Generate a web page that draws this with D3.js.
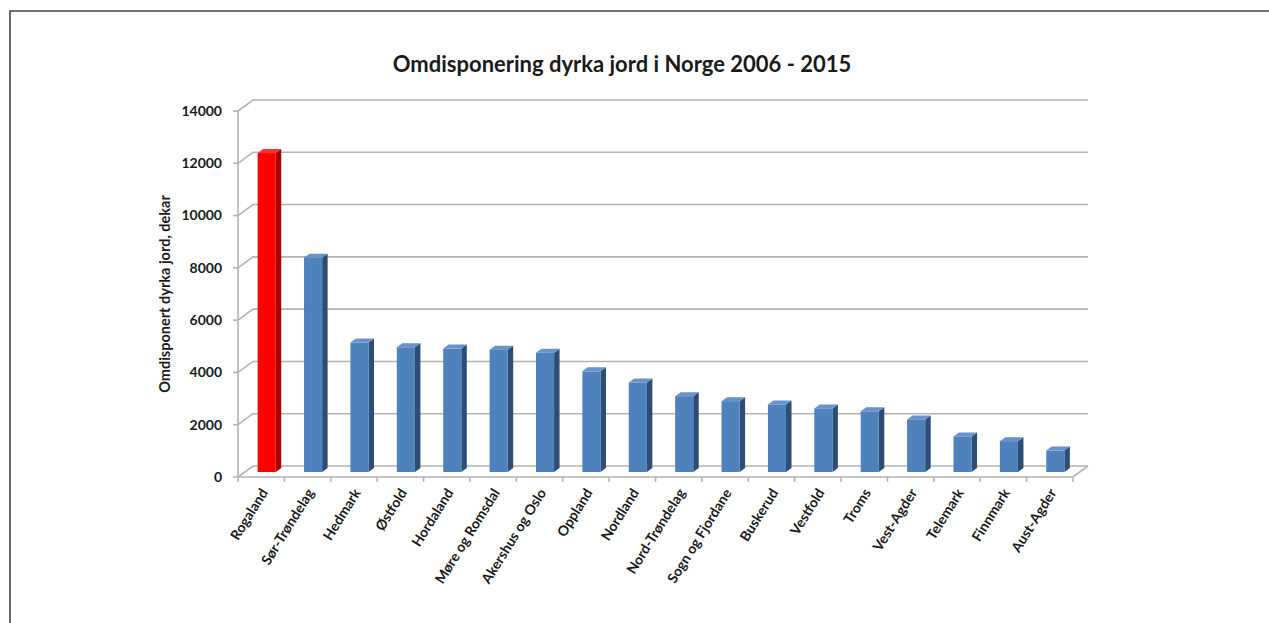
<!DOCTYPE html>
<meta charset="utf-8">
<script src="https://cdn.jsdelivr.net/npm/d3@7"></script>
<style>
  body { margin: 0; background: #fff; }
  text { font-family: Lato, "Open Sans", sans-serif; fill: #1a1a1a; }
</style>
<body>
<script>
// fylker, sortert etter omdisponert areal
var fylker = ["Rogaland", "Sør-Trøndelag", "Hedmark", "Østfold", "Hordaland", "Møre og Romsdal",
  "Akershus og Oslo", "Oppland", "Nordland", "Nord-Trøndelag", "Sogn og Fjordane", "Buskerud",
  "Vestfold", "Troms", "Vest-Agder", "Telemark", "Finnmark", "Aust-Agder"];
var dekar = [12200, 8200, 4950, 4770, 4720, 4680, 4560, 3850, 3420, 2900, 2710, 2580, 2430, 2320, 2010, 1360, 1180, 820];
var yTicks = [0, 2000, 4000, 6000, 8000, 10000, 12000, 14000];
var highlight = "Rogaland";

var width = 1269, height = 623;
var depth = {x: 15, y: -11};      // back wall offset
var barDepth = {x: 5.5, y: -4};   // bar side/top
var barShift = {x: 5.5, y: -5};   // bar plane behind the front edge

var svg = d3.select("body").append("svg")
    .attr("width", width)
    .attr("height", height);

// frame
svg.append("path")
    .attr("d", "M10," + height + "V11H" + width)
    .attr("fill", "none")
    .attr("stroke", "#444")
    .attr("stroke-width", 1.6);

var x = d3.scaleBand(fylker, [238, 1073]).paddingInner(0.61).paddingOuter(0.305);
var y = d3.scaleLinear([0, 14000], [477, 111]);
var step = x.step();

var grid = svg.append("g")
    .attr("fill", "none")
    .attr("stroke", "#b3b3b3")
    .attr("stroke-width", 1.6);

// back wall gridlines + side wall diagonals
grid.selectAll("path.grid")
  .data(yTicks)
  .join("path")
    .attr("class", "grid")
    .attr("d", d => `M${238},${y(d)}L${238 + depth.x},${y(d) + depth.y}H${1073 + depth.x}`);

// floor
grid.append("path")
    .attr("d", `M238,${y(0)}H1073L${1073 + depth.x},${y(0) + depth.y}`);

// front y axis line and ticks
grid.append("path")
    .attr("d", `M238,${y(14000)}V${y(0)}`);
grid.selectAll("path.ytick")
  .data(yTicks)
  .join("path")
    .attr("class", "ytick")
    .attr("d", d => `M233,${y(d)}H238`);

// x ticks at category boundaries
grid.selectAll("path.xtick")
  .data(d3.range(fylker.length + 1))
  .join("path")
    .attr("class", "xtick")
    .attr("d", i => `M${238 + i * step},${y(0)}v5`);

// bars
var colors = {
  normal: {front: "#4f81bd", side: "#2c4d75", top: "#6892c8"},
  hi: {front: "#ff0000", side: "#a80000", top: "#ff3030"}
};

var bars = svg.append("g")
  .selectAll("g")
  .data(fylker.map((f, i) => ({navn: f, verdi: dekar[i]})))
  .join("g");

bars.each(function(d) {
  var g = d3.select(this);
  var c = d.navn === highlight ? colors.hi : colors.normal;
  var x0 = x(d.navn) + barShift.x, x1 = x0 + x.bandwidth();
  var y0 = y(0) + barShift.y, y1 = y(d.verdi) + barShift.y;
  var dx = barDepth.x, dy = barDepth.y;
  g.append("path")
      .attr("fill", c.side)
      .attr("d", `M${x1},${y0}L${x1 + dx},${y0 + dy}V${y1 + dy}L${x1},${y1}Z`);
  g.append("path")
      .attr("fill", c.top)
      .attr("d", `M${x0},${y1}L${x0 + dx},${y1 + dy}H${x1 + dx}L${x1},${y1}Z`);
  g.append("rect")
      .attr("fill", c.front)
      .attr("x", x0)
      .attr("y", y1)
      .attr("width", x1 - x0)
      .attr("height", y0 - y1);
});

// y tick labels
svg.append("g")
    .attr("text-anchor", "end")
    .attr("font-size", 14)
    .attr("font-weight", 700)
  .selectAll("text")
  .data(yTicks)
  .join("text")
    .attr("x", 222)
    .attr("y", d => y(d))
    .attr("dy", "0.35em")
    .text(d => d);

// x labels
svg.append("g")
    .attr("text-anchor", "end")
    .attr("font-size", 14)
    .attr("font-weight", 700)
  .selectAll("text")
  .data(fylker)
  .join("text")
    .attr("transform", d => `translate(${x(d) + x.bandwidth() / 2 + 3},${490}) rotate(-58)`)
    .attr("dy", "0.35em")
    .text(d => d);

// y axis title
svg.append("text")
    .attr("transform", "translate(170,294) rotate(-90)")
    .attr("text-anchor", "middle")
    .attr("font-size", 14.5)
    .attr("font-weight", 700)
    .text("Omdisponert dyrka jord, dekar");

// title
svg.append("text")
    .attr("x", 622)
    .attr("y", 72)
    .attr("text-anchor", "middle")
    .attr("font-size", 22)
    .attr("font-weight", 700)
    .text("Omdisponering dyrka jord i Norge 2006 - 2015");
</script>
</body>
